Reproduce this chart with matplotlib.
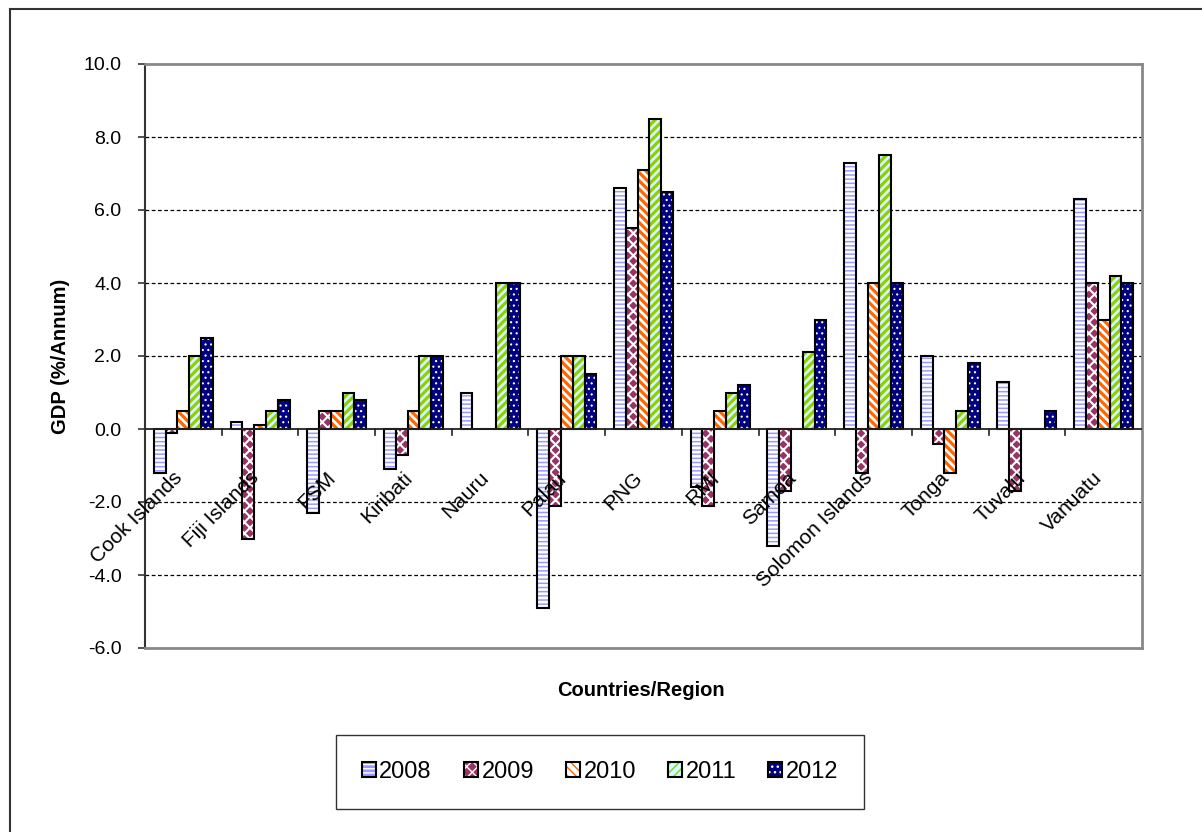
import matplotlib
matplotlib.use('Agg')
import matplotlib.pyplot as plt
from matplotlib.patches import Patch
from matplotlib.lines import Line2D
import matplotlib.transforms as mtransforms

# data (GDP growth, %/annum)
countries = ['Cook Islands', 'Fiji Islands', 'FSM', 'Kiribati', 'Nauru', 'Palau', 'PNG',
             'RMI', 'Samoa', 'Solomon Islands', 'Tonga', 'Tuvalu', 'Vanuatu']
years = ['2008', '2009', '2010', '2011', '2012']
g2008 = [-1.2, 0.2, -2.3, -1.1, 1.0, -4.9, 6.6, -1.6, -3.2, 7.3, 2.0, 1.3, 6.3]
g2009 = [-0.1, -3.0, 0.5, -0.7, 0.0, -2.1, 5.5, -2.1, -1.7, -1.2, -0.4, -1.7, 4.0]
g2010 = [0.5, 0.1, 0.5, 0.5, 0.0, 2.0, 7.1, 0.5, 0.0, 4.0, -1.2, 0.0, 3.0]
g2011 = [2.0, 0.5, 1.0, 2.0, 4.0, 2.0, 8.5, 1.0, 2.1, 7.5, 0.5, 0.0, 4.2]
g2012 = [2.5, 0.8, 0.8, 2.0, 4.0, 1.5, 6.5, 1.2, 3.0, 4.0, 1.8, 0.5, 4.0]
series = [g2008, g2009, g2010, g2011, g2012]
yticks = [-6, -4, -2, 0, 2, 4, 6, 8, 10]

# excel-ish fills: (face, hatch colour, hatch, hatch linewidth)
styles = [
    ('#9999FF', 'white', '----', 1.9),
    ('#993366', 'white', 'xxx', 1.5),
    ('white', '#FF6600', '\\\\\\\\', 2.3),
    ('#CCFFFF', '#99CC00', '////', 2.3),
    ('#000080', 'white', '...', 0.8),
]

plt.rcParams['font.family'] = ['Liberation Sans', 'DejaVu Sans']

W, H = 1202, 832
fig = plt.figure(figsize=(W / 100, H / 100), dpi=100)
ax = fig.add_axes([145 / W, 1 - 648 / H, (1142 - 145) / W, (648 - 64) / H])

w = 0.154
x = list(range(len(countries)))
handles = []
for k, vals in enumerate(series):
    face, hc, hatch, hlw = styles[k]
    pos = [i + (k - 2) * w for i in x]
    with plt.rc_context({'hatch.linewidth': hlw}):
        ax.bar(pos, vals, width=w, color=face, edgecolor=hc, hatch=hatch, linewidth=0, zorder=3)
        hp = Patch(facecolor=face, edgecolor=hc, hatch=hatch, linewidth=0)
    ax.bar(pos, vals, width=w, fill=False, edgecolor='black', linewidth=1.5, zorder=4)
    handles.append((hp, Patch(fill=False, edgecolor='black', linewidth=1.5)))

ax.set_xlim(-0.5, len(countries) - 0.5)
ax.set_ylim(-6, 10)
ax.set_yticks(yticks)
ax.set_yticklabels([f'{v:.1f}' for v in yticks], fontsize=14)
ax.tick_params(axis='y', direction='out', length=5, width=1.2, pad=12, color='#333333')
ax.set_xticks([])

# dashed gridlines, solid zero line
for v in yticks[1:-1]:
    if v == 0:
        continue
    ax.axhline(v, color='black', linewidth=0.9, linestyle=(0, (3, 2)), zorder=1)
ax.axhline(0, color='#222222', linewidth=1.3, zorder=5)
# category tick marks hanging off the zero line
for b in range(1, len(countries)):
    ax.plot([b - 0.5, b - 0.5], [0, -0.17], color='#222222', linewidth=1.2, zorder=5,
            clip_on=False)

for s in ['top', 'right', 'bottom']:
    ax.spines[s].set_color('#888888')
    ax.spines[s].set_linewidth(2)
ax.spines['left'].set_color('#333333')
ax.spines['left'].set_linewidth(1.5)

# rotated category labels sitting below the zero line
off = mtransforms.offset_copy(ax.transData, fig=fig, x=-4, y=-46, units='dots')
for i, name in enumerate(countries):
    ax.text(i, 0, name, transform=off, rotation=45, rotation_mode='anchor',
            ha='right', va='center', fontsize=15, zorder=6)

fig.text(60 / W, 1 - 356 / H, 'GDP (%/Annum)', rotation=90, ha='center', va='center',
         fontsize=14.5, fontweight='bold')
fig.text(641 / W, 1 - 690 / H, 'Countries/Region', ha='center', va='center',
         fontsize=14.5, fontweight='bold')

leg = fig.legend(handles, years, loc='center', bbox_to_anchor=(600 / W, 1 - 772 / H),
                 ncol=5, fontsize=17, frameon=True, fancybox=False, borderpad=1.1,
                 handlelength=0.6, handleheight=0.6, handletextpad=0.15,
                 columnspacing=1.35)
leg.get_frame().set_edgecolor('black')
leg.get_frame().set_linewidth(1.0)

# outer chart border (left and top edges visible)
fig.add_artist(Line2D([10 / W, 10 / W], [0, 1 - 9 / H], color='#333333', linewidth=1.5))
fig.add_artist(Line2D([10 / W, 1], [1 - 9 / H, 1 - 9 / H], color='#333333', linewidth=1.5))

fig.savefig('out.png', dpi=100)
